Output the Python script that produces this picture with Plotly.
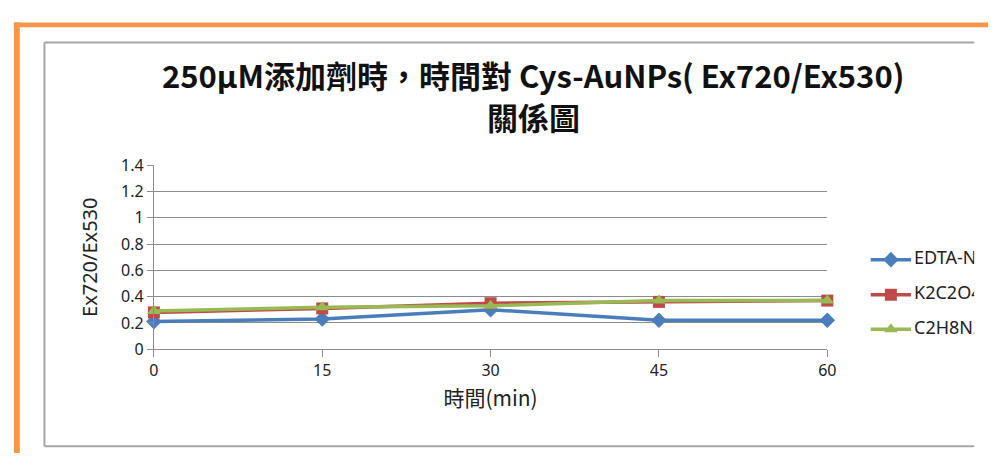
import plotly.graph_objects as go

W, H = 997, 464

# Sampling times (min) and Ex720/Ex530 ratios for each additive
times = [0, 15, 30, 45, 60]
series_names = ["EDTA-Na2", "K2C2O4", "C2H8N2"]
edta = [0.21, 0.23, 0.30, 0.22, 0.22]
k2c2o4 = [0.28, 0.31, 0.35, 0.36, 0.37]
c2h8n2 = [0.29, 0.32, 0.33, 0.37, 0.37]
y_ticks = [0, 0.2, 0.4, 0.6, 0.8, 1.0, 1.2, 1.4]
y_tick_text = ["0", "0.2", "0.4", "0.6", "0.8", "1", "1.2", "1.4"]
title_lines = ["250μM添加劑時，時間對 Cys-AuNPs( Ex720/Ex530)", "關係圖"]

colors = ["#4A7EBB", "#BE4B48", "#98B954"]
symbols = ["diamond", "square", "triangle-up"]
values = [edta, k2c2o4, c2h8n2]

font_cjk = "Noto Sans CJK TC"


def px_x(p):
    return p / W


def px_y(p):
    return 1 - p / H


# plot area in pixels
PL, PR, PT, PB = 151, 834, 162, 355

fig = go.Figure()

for name, vals, col, sym in zip(series_names, values, colors, symbols):
    fig.add_trace(go.Scatter(
        x=times, y=vals, name=name, mode="lines+markers",
        line=dict(color=col, width=3.5),
        marker=dict(symbol=sym, size=12, color=col),
        cliponaxis=False, showlegend=False,
    ))

# legend keys in a pixel-scaled overlay subplot so long names are cut at the frame edge
LEG_X0, LEG_X1 = 872, 983
leg_rows = [261, 298, 334]
for name, col, sym, ry in zip(series_names, colors, symbols, leg_rows):
    fig.add_trace(go.Scatter(
        x=[878, 919], y=[ry, ry], mode="lines", xaxis="x2", yaxis="y2",
        line=dict(color=col, width=3.5), showlegend=False, hoverinfo="skip",
        cliponaxis=True,
    ))
    fig.add_trace(go.Scatter(
        x=[898.5], y=[ry], mode="markers", xaxis="x2", yaxis="y2",
        marker=dict(symbol=sym, size=12, color=col), showlegend=False,
        hoverinfo="skip", cliponaxis=True,
    ))
    fig.add_trace(go.Scatter(
        x=[922], y=[ry], mode="text", text=[name], textposition="middle right",
        xaxis="x2", yaxis="y2", textfont=dict(family="Noto Sans", size=18, color="#222"),
        showlegend=False, hoverinfo="skip", cliponaxis=True,
    ))

grid_col = "#8C8C8C"

annotations = [
    dict(text=title_lines[0], x=536 / W, y=px_y(67), xref="paper", yref="paper",
         xanchor="center", yanchor="middle", showarrow=False,
         font=dict(family=font_cjk, size=31, color="#111", weight="bold")),
    dict(text=title_lines[1], x=536 / W, y=px_y(111), xref="paper", yref="paper",
         xanchor="center", yanchor="middle", showarrow=False,
         font=dict(family=font_cjk, size=31, color="#111", weight="bold")),
]

fig.update_layout(
    width=W, height=H,
    margin=dict(l=0, r=0, t=0, b=0),
    paper_bgcolor="white", plot_bgcolor="white",
    annotations=annotations,
    xaxis=dict(
        domain=[px_x(PL), px_x(PR)], range=[0, 60],
        tickvals=times, ticktext=[str(t) for t in times],
        showgrid=False, zeroline=False,
        showline=True, linecolor=grid_col, linewidth=1,
        ticks="outside", ticklen=7, tickcolor=grid_col,
        tickfont=dict(family="Noto Sans", size=16, color="#222"),
        title=dict(text="時間(min)", standoff=10,
                   font=dict(family=font_cjk, size=21, color="#222")),
    ),
    yaxis=dict(
        domain=[px_y(PB), px_y(PT)], range=[0, 1.4],
        tickvals=y_ticks, ticktext=y_tick_text,
        showgrid=True, gridcolor=grid_col, gridwidth=1,
        zeroline=False, showline=True, linecolor=grid_col, linewidth=1,
        ticks="outside", ticklen=6, tickcolor=grid_col,
        tickfont=dict(family="Noto Sans", size=16, color="#222"),
        title=dict(text="Ex720/Ex530", standoff=18,
                   font=dict(family="Noto Sans", size=20, color="#222")),
    ),
    xaxis2=dict(domain=[px_x(LEG_X0), px_x(LEG_X1)], range=[LEG_X0, LEG_X1],
                visible=False, fixedrange=True),
    yaxis2=dict(domain=[0, 1], range=[H, 0], anchor="x2",
                visible=False, fixedrange=True),
    shapes=[
        # orange outer frame (top and left)
        dict(type="rect", xref="paper", yref="paper",
             x0=px_x(9), x1=1, y0=px_y(17), y1=px_y(12),
             fillcolor="#F79646", line=dict(width=0), layer="below"),
        dict(type="rect", xref="paper", yref="paper",
             x0=px_x(9), x1=px_x(15), y0=0, y1=px_y(12),
             fillcolor="#F79646", line=dict(width=0), layer="below"),
        # grey chart frame
        dict(type="line", xref="paper", yref="paper",
             x0=px_x(40), x1=px_x(983), y0=px_y(33), y1=px_y(33),
             line=dict(color="#A6A6A6", width=2)),
        dict(type="line", xref="paper", yref="paper",
             x0=px_x(40), x1=px_x(40), y0=px_y(33), y1=px_y(457),
             line=dict(color="#A6A6A6", width=2)),
        dict(type="line", xref="paper", yref="paper",
             x0=px_x(40), x1=px_x(983), y0=px_y(457), y1=px_y(457),
             line=dict(color="#A6A6A6", width=2)),
    ],
)

fig.write_html("out.html")
